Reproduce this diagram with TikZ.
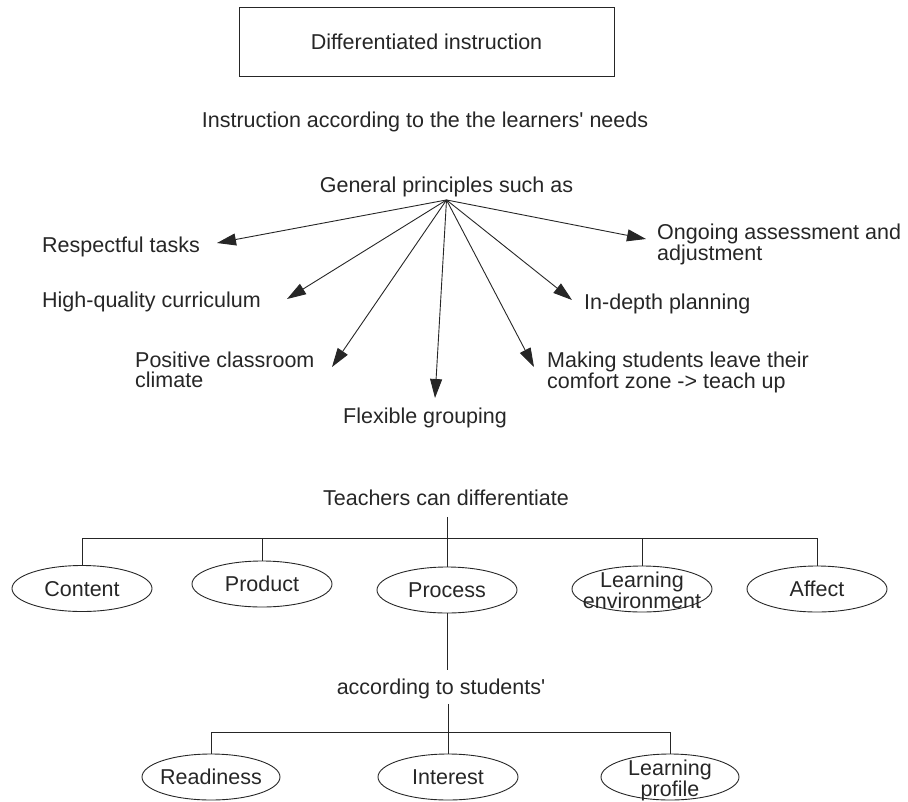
\documentclass[tikz,border=0pt]{standalone}
\usepackage{fontspec}
\newfontfamily\diagfont{Liberation Sans}
\usetikzlibrary{arrows.meta,shapes.geometric}
\begin{document}
\begin{tikzpicture}[x=1pt,y=-1pt,
  every node/.style={font=\diagfont\fontsize{21.5}{19.5}\selectfont, text=black!85},
  one/.style={inner sep=0pt, text height=15.5pt, text depth=0pt},
  multi/.style={inner sep=0pt, align=left},
  oval/.style={draw=black!85, ellipse, minimum width=140pt, minimum height=46pt, inner sep=0pt, line width=0.9pt},
  conn/.style={line width=0.9pt, draw=black!85},
  arr/.style={conn, -{Triangle[length=19pt,width=12pt]}}
]
\useasboundingbox (0,0) rectangle (908,801);

% title
\node[one, draw=black!85, line width=0.9pt, minimum width=375pt, minimum height=69pt] (title) at (426.5,41.5) {Differentiated instruction};
\node[one] (need) at (425,120) {Instruction according to the the learners' needs};
\node[one, inner ysep=7pt] (gp) at (446.5,185) {General principles such as};

% principles
\node[one, anchor=west] (resp) at (42,245) {Respectful tasks};
\node[one, anchor=west] (hq) at (42,300) {High-quality curriculum};
\node[multi, anchor=west] (pos) at (135,369.6) {Positive classroom\\climate};
\node[one, anchor=west] (flex) at (343,416) {Flexible grouping};
\node[multi, anchor=west] (mak) at (547,372.4) {Making students leave their\\comfort zone -> teach up};
\node[one, anchor=west] (ind) at (584,302) {In-depth planning};
\node[multi, anchor=west] (ong) at (657,244.7) {Ongoing assessment and\\adjustment};

\coordinate (t1) at (217,243);
\coordinate (t2) at (287,299);
\coordinate (t3) at (332,367);
\coordinate (t4) at (435,398);
\coordinate (t5) at (534,367);
\coordinate (t6) at (572,300);
\coordinate (t7) at (646,239);

\foreach \t in {t1,t2,t3,t4,t5,t6,t7}
  \draw[arr] (gp.south) -- (\t);

% teachers can differentiate
\node[one, inner ysep=11pt] (teach) at (446,498) {Teachers can differentiate};
\coordinate (bus) at (447,538);

\node[oval] (cont) at (82,588.5) {};
\node[oval] (prod) at (262,584) {};
\node[oval] (proc) at (447,590) {};
\node[oval] (lenv) at (642,589) {};
\node[oval] (aff) at (817,589) {};

\node[one] at (cont) {Content};
\node[one] at (prod) {Product};
\node[one] at (proc) {Process};
\node[multi, align=center] at (642,590.6) {Learning\\environment};
\node[one] at (aff) {Affect};

\draw[conn] (proc.north |- teach.south) -- (proc.north);
\draw[conn] (cont.north) -- (cont.north |- bus) -- (aff.north |- bus) -- (aff.north);
\draw[conn] (prod.north |- bus) -- (prod.north);
\draw[conn] (lenv.north |- bus) -- (lenv.north);

% according to students'
\node[one, inner ysep=9pt] (acc) at (441,687) {according to students'};
\coordinate (bus2) at (448,732);

\node[oval, minimum width=138pt] (read) at (211,777) {};
\node[oval] (int) at (448,777) {};
\node[oval, minimum width=138pt] (lprof) at (670,777) {};

\node[one] at (read) {Readiness};
\node[one] at (int) {Interest};
\node[multi, align=center] at (670,780) {Learning\\profile};

\draw[conn] (proc.south) -- (proc.south |- acc.north);
\draw[conn] (int.north |- acc.south) -- (int.north);
\draw[conn] (read.north) -- (read.north |- bus2) -- (lprof.north |- bus2) -- (lprof.north);
\end{tikzpicture}
\end{document}
